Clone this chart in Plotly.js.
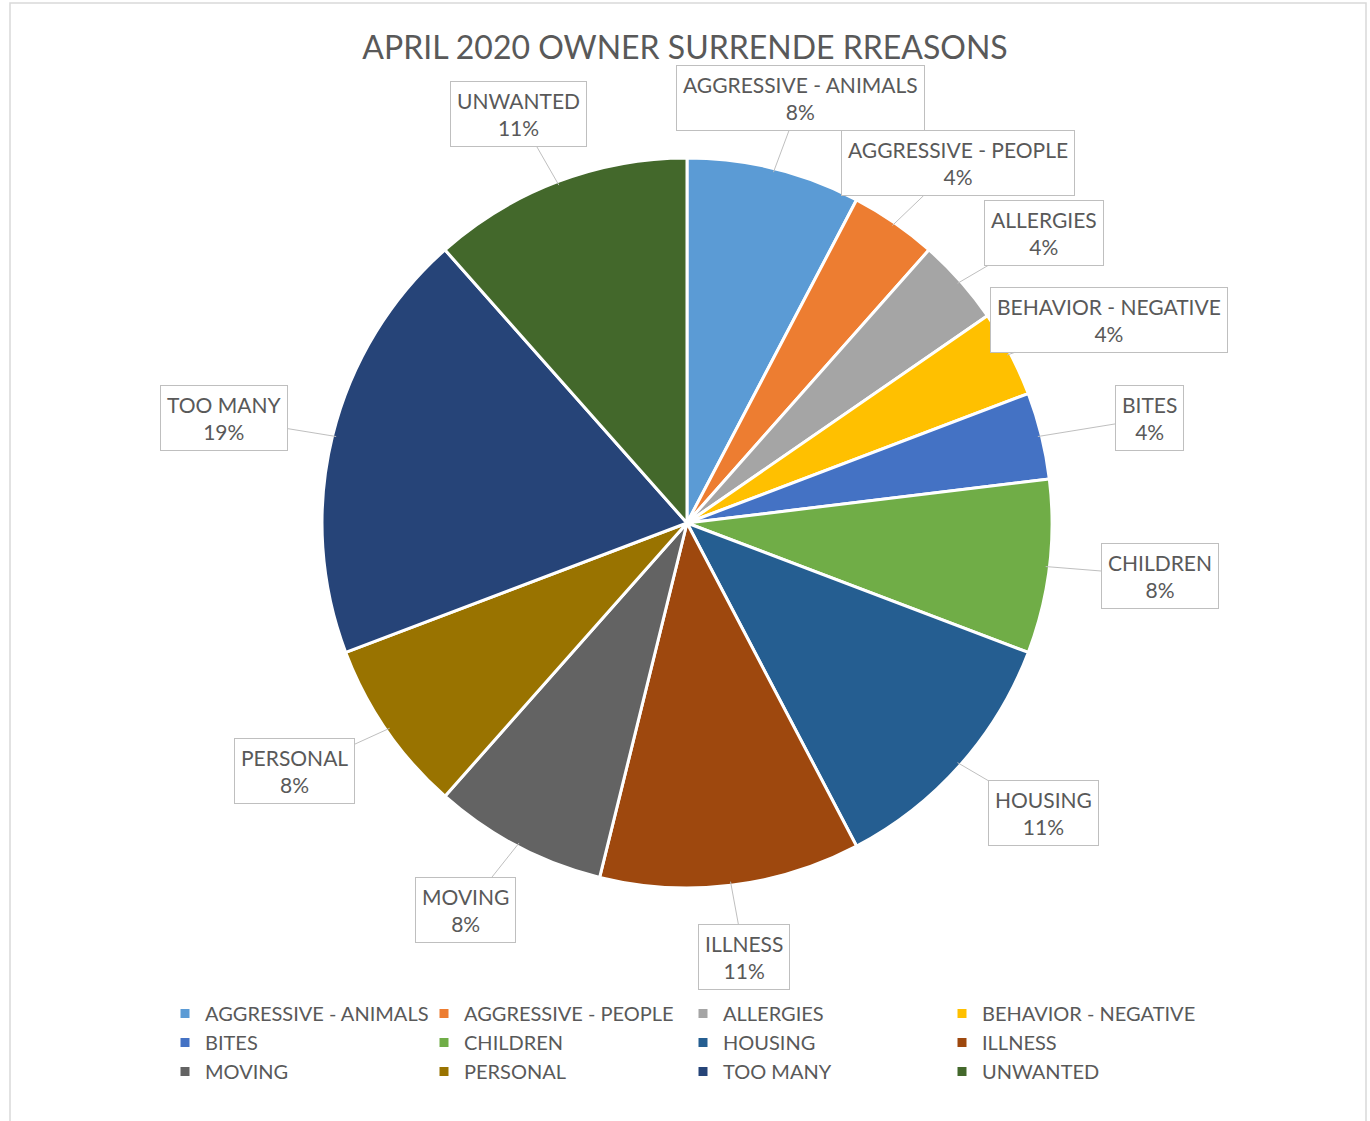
<!DOCTYPE html>
<html>
<head>
<meta charset="utf-8">
<script src="https://cdn.plot.ly/plotly-3.0.1.min.js"></script>
<style>html,body{margin:0;padding:0;background:#fff;}#chart{width:1370px;height:1121px;}</style>
</head>
<body>
<div id="chart"></div>
<script>
// Data
const categories = ['AGGRESSIVE - ANIMALS','AGGRESSIVE - PEOPLE','ALLERGIES','BEHAVIOR - NEGATIVE','BITES','CHILDREN','HOUSING','ILLNESS','MOVING','PERSONAL','TOO MANY','UNWANTED'];
const counts = [2,1,1,1,1,2,3,3,2,2,5,3];
const percentLabels = ['8%','4%','4%','4%','4%','8%','11%','11%','8%','8%','19%','11%'];
const sliceColors = ['#5B9BD5','#ED7D31','#A5A5A5','#FFC000','#4472C4','#70AD47','#255E91','#9E480E','#636363','#997300','#264478','#43682B'];
const chartTitle = 'APRIL 2020 OWNER SURRENDE RREASONS';

const W = 1370, H = 1121;
const ML = 135, MR = 135;
const PW = W - ML - MR;
const cx = 687, cy = 523, R = 365;
const FONT = 'Lato, "Open Sans", sans-serif';
const TXT = '#595959';

const pxToX = px => (px - ML) / PW;
const pyToY = py => 1 - py / H;

// label annotations placed from the data (mid-angle of each slice)
const total = counts.reduce((a, b) => a + b, 0);
let cum = 0;
const annotations = counts.map((v, i) => {
  const mid = (cum + v / 2) / total * 2 * Math.PI;
  cum += v;
  const s = Math.sin(mid), c = Math.cos(mid);
  return {
    xref: 'paper', yref: 'paper',
    x: pxToX(cx + R * 0.99 * s), y: pyToY(cy - R * 0.99 * c),
    text: categories[i] + '<br>' + percentLabels[i],
    showarrow: true, arrowhead: 0, arrowwidth: 1, arrowcolor: '#BFBFBF',
    ax: 115 * s, ay: -76 * c,
    bordercolor: '#BFBFBF', borderwidth: 1, borderpad: 6, bgcolor: '#FFFFFF',
    font: {family: FONT, size: 21, color: TXT},
    align: 'center'
  };
});

const trace = {
  type: 'pie',
  labels: categories,
  values: counts,
  sort: false,
  direction: 'clockwise',
  rotation: 0,
  marker: {colors: sliceColors, line: {color: '#FFFFFF', width: 3}},
  textinfo: 'none',
  hoverinfo: 'label+percent',
  domain: {x: [pxToX(cx - R), pxToX(cx + R)], y: [pyToY(cy + R), pyToY(cy - R)]}
};

const layout = {
  width: W, height: H,
  margin: {l: ML, r: MR, t: 0, b: 0},
  paper_bgcolor: '#FFFFFF',
  font: {family: FONT, color: TXT},
  title: {text: chartTitle, x: 0.5, xref: 'container', y: 1 - 48 / H, yref: 'container', yanchor: 'middle', font: {family: FONT, size: 32, color: TXT}},
  showlegend: true,
  legend: {
    orientation: 'h', x: pxToX(165), xanchor: 'left', y: pyToY(994), yanchor: 'top',
    entrywidth: 214, entrywidthmode: 'pixels',
    font: {family: FONT, size: 20, color: TXT},
    traceorder: 'normal'
  },
  annotations: annotations,
  shapes: [{type: 'rect', xref: 'paper', yref: 'paper', layer: 'below',
    x0: pxToX(10), x1: pxToX(1366), y0: pyToY(1130), y1: pyToY(3),
    line: {color: '#D9D9D9', width: 1.5}, fillcolor: 'rgba(0,0,0,0)'}]
};

Plotly.newPlot('chart', [trace], layout, {displayModeBar: false, staticPlot: true});
</script>
</body>
</html>
